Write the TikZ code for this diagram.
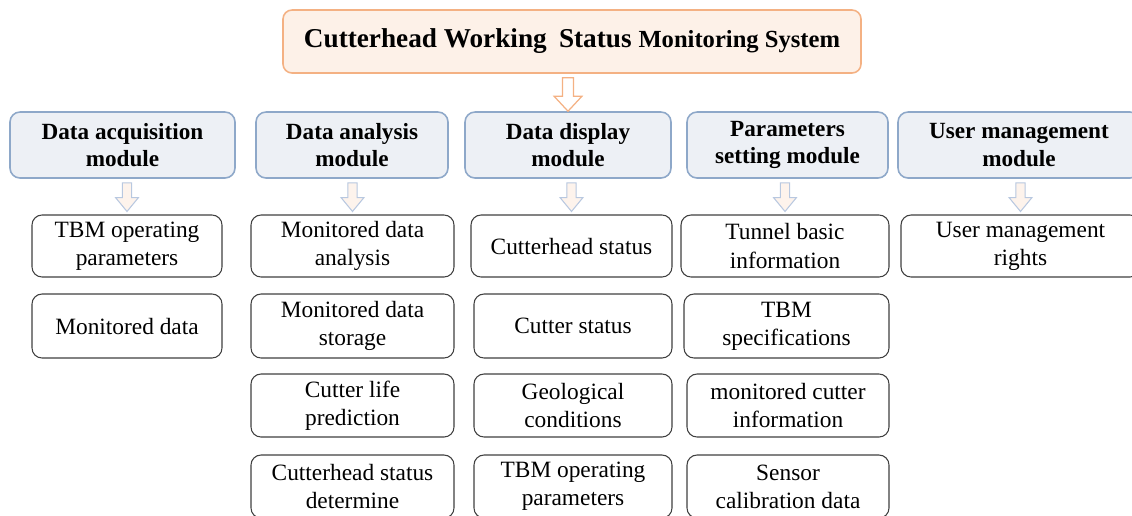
\documentclass[tikz,border=0pt]{standalone}
\usepackage{fontspec}
\setmainfont{Liberation Serif}
\usetikzlibrary{calc}
\definecolor{titlefill}{HTML}{FDF1E8}
\definecolor{titledraw}{HTML}{F4B183}
\definecolor{modfill}{HTML}{EDF0F5}
\definecolor{moddraw}{HTML}{8EA8C9}
\definecolor{childdraw}{HTML}{404040}
\definecolor{arrdraw}{HTML}{B8C8E0}
\definecolor{arrfill}{HTML}{FDF3EC}
\newcommand{\blockarrow}[6]{%
  \draw[#1] let \p1=(#2), \p2=(#3) in
    (\x1-#4,\y1) -- (\x1+#4,\y1) -- (\x1+#4,\y2+#6) -- (\x1+#5,\y2+#6) --
    (\x1,\y2) -- (\x1-#5,\y2+#6) -- (\x1-#4,\y2+#6) -- cycle;}
\begin{document}
\begin{tikzpicture}[x=0.02cm,y=-0.02cm,
  boxsize/.style 2 args={minimum width=#1*0.02cm, minimum height=#2*0.02cm},
  titlebox/.style={draw=titledraw, fill=titlefill, line width=0.9pt, rounded corners=0.18cm, inner sep=0pt, font=\bfseries},
  modbox/.style={draw=moddraw, fill=modfill, line width=0.9pt, rounded corners=0.2cm, inner sep=0pt, align=center, font=\fontsize{13.2}{15.8}\selectfont\bfseries},
  childbox/.style={draw=childdraw, fill=white, line width=0.6pt, rounded corners=0.2cm, inner sep=0pt, align=center, font=\fontsize{13.3}{16}\selectfont},
  bigarrow/.style={draw=titledraw, fill=white, line width=0.7pt},
  smallarrow/.style={draw=arrdraw, fill=arrfill, line width=0.6pt}]
\useasboundingbox (0,0) rectangle (1132,515);
\clip (0,0) rectangle (1132,515);

\node[titlebox, boxsize={578}{63}] (title) at (572,41.5)
  {{\fontsize{15.5}{18}\selectfont Cutterhead Working\hspace{0.45em}Status }{\fontsize{14}{18}\selectfont Monitoring System}};

\node[modbox, boxsize={225}{66}] (acq)  at (122.5,145) {Data acquisition\\module};
\node[modbox, boxsize={192}{66}] (ana)  at (352,145)   {Data analysis\\module};
\node[modbox, boxsize={206}{66}] (disp) at (568,145)   {Data display\\module};
\node[modbox, boxsize={201}{66}] (par)  at (787.5,145) {Parameters\\setting module};
\node[modbox, boxsize={242}{66}] (usr)  at (1019,145)  {User management\\module};

% acquisition column
\node[childbox, boxsize={190}{62}] (a1) at (127,246) {TBM operating\\parameters};
\node[childbox, boxsize={190}{64}] (a2) at (127,326) {Monitored data};
% analysis column
\node[childbox, boxsize={203}{62}] (b1) at (352.5,246)   {Monitored data\\analysis};
\node[childbox, boxsize={203}{64}] (b2) at (352.5,326)   {Monitored data\\storage};
\node[childbox, boxsize={203}{63}] (b3) at (352.5,405.5) {Cutter life\\prediction};
\node[childbox, boxsize={203}{63}] (b4) at (352.5,486.5) {Cutterhead status\\determine};
% display column
\node[childbox, boxsize={201}{62}] (c1) at (571.5,246)   {Cutterhead status};
\node[childbox, boxsize={198}{64}] (c2) at (573,326)     {Cutter status};
\node[childbox, boxsize={198}{63}] (c3) at (573,405.5)   {Geological\\conditions};
\node[childbox, boxsize={198}{63}] (c4) at (573,486.5)   {TBM operating\\parameters};
% parameters column
\node[childbox, boxsize={208}{62}] (d1) at (785,246)     {Tunnel basic\\information};
\node[childbox, boxsize={205}{64}] (d2) at (786.5,326)   {TBM\\specifications};
\node[childbox, boxsize={202}{63}] (d3) at (788,405.5)   {monitored cutter\\information};
\node[childbox, boxsize={202}{63}] (d4) at (788,486.5)   {Sensor\\calibration data};
% user column
\node[childbox, boxsize={239}{62}] (e1) at (1020.5,246)  {User management\\rights};

% arrows
\coordinate (t0) at ($(title.south -| disp.north)+(0,4)$);
\blockarrow{bigarrow}{t0}{disp.north}{3.1pt}{7.9pt}{8.5pt}

\foreach \m/\c in {acq/a1, ana/b1, disp/c1, par/d1, usr/e1}{
  \coordinate (s\m) at ($(\m.south -| \c.north)+(0,4)$);
  \coordinate (e\m) at ($(\c.north)+(0,-3)$);
  \blockarrow{smallarrow}{s\m}{e\m}{2.6pt}{6.5pt}{7.9pt}
}
\end{tikzpicture}
\end{document}
